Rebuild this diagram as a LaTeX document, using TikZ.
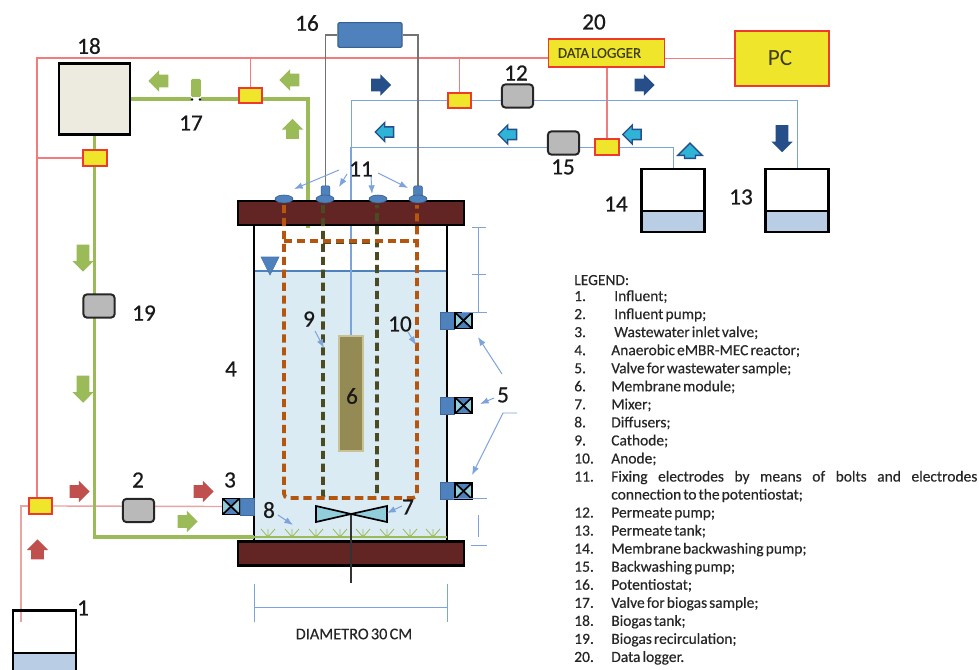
\documentclass[tikz,border=0pt]{standalone}
\usepackage{fontspec}
\setmainfont{Carlito}
\newfontfamily\numfont[FakeBold=.6]{Carlito}
\newfontfamily\legfont[WordSpace=.6,FakeBold=.25]{Carlito}
\usetikzlibrary{arrows.meta,calc,positioning,shapes.arrows,shapes.geometric}
\pgfdeclarelayer{under}
\pgfdeclarelayer{lines}
\pgfsetlayers{under,lines,main}
\definecolor{sigred}{HTML}{F27C7C}
\definecolor{inpink}{HTML}{E8A5A5}
\definecolor{boxred}{HTML}{EE3A2A}
\definecolor{boxyellow}{HTML}{EFE52B}
\definecolor{gasgreen}{HTML}{9BBB59}
\definecolor{liqblue}{HTML}{7DA3DC}
\definecolor{boxblue}{HTML}{4F81BD}
\definecolor{darkblue}{HTML}{264F8A}
\definecolor{lidbrown}{HTML}{632523}
\definecolor{waterblue}{HTML}{DBEBF4}
\definecolor{tankblue}{HTML}{B9CDE5}
\definecolor{tankcream}{HTML}{EDEBE0}
\definecolor{anodebrown}{HTML}{B4560F}
\definecolor{cathodeolive}{HTML}{4A4A23}
\definecolor{membfill}{HTML}{948A54}
\definecolor{membedge}{HTML}{C9C297}
\definecolor{mixcyan}{HTML}{92CDDC}
\definecolor{flowred}{HTML}{C0504D}
\definecolor{inkolive}{HTML}{3F3F15}
\tikzset{
 sigline/.style={sigred,line width=.75pt},
 inline/.style={inpink,line width=1pt},
 gasline/.style={gasgreen,line width=2.2pt},
 liqline/.style={liqblue,line width=.7pt},
 wireline/.style={gray!90!black,line width=.8pt},
 noteline/.style={liqblue,line width=.7pt},
 electrode/.style={line width=2.6pt,dash pattern=on 5.8pt off 3.4pt},
 sensorbox/.style={draw=boxred,fill=boxyellow,line width=1.4pt,minimum width=.58cm,minimum height=.38cm,inner sep=0pt},
 pumpbox/.style={draw=black!85,fill=gray!55,line width=1.4pt,rounded corners=2.5pt,minimum width=.78cm,minimum height=.58cm,inner sep=0pt},
 tankbox/.style={draw=black,line width=1.8pt,minimum width=1.58cm,minimum height=1.57cm,inner sep=0pt},
 lidbox/.style={draw=black,fill=lidbrown,line width=1.6pt,minimum width=5.65cm,minimum height=.6cm,inner sep=0pt},
 portbox/.style={draw=boxblue!80!black,fill=boxblue,line width=.4pt,minimum width=.36cm,minimum height=.42cm,inner sep=0pt},
 valvebox/.style={draw=black,fill=boxblue,line width=1pt,minimum width=.42cm,minimum height=.4cm,inner sep=0pt,
  path picture={
   \fill[mixcyan] (path picture bounding box.south west)--(path picture bounding box.center)--(path picture bounding box.north west)--cycle;
   \fill[mixcyan] (path picture bounding box.south east)--(path picture bounding box.center)--(path picture bounding box.north east)--cycle;
   \draw[black,line width=1.2pt] (path picture bounding box.south west)--(path picture bounding box.north east)
    (path picture bounding box.north west)--(path picture bounding box.south east);}},
 numlabel/.style={font=\numfont\fontsize{16.5}{17}\selectfont,text=black!90,inner sep=0pt},
 boltflat/.style={ellipse,draw=boxblue!70!black,fill=boxblue,line width=.4pt,minimum width=.45cm,minimum height=.2cm,inner sep=0pt},
 boltstub/.style={draw=boxblue!70!black,fill=boxblue,rounded corners=1pt,minimum width=.22cm,minimum height=.36cm,inner sep=0pt},
 flowarrow/.style={single arrow,single arrow head extend=.11cm,minimum height=.5cm,inner xsep=0pt,inner ysep=.15cm},
 gasflow/.style={flowarrow,fill=gasgreen},
 inflow/.style={flowarrow,fill=flowred},
 permflow/.style={flowarrow,fill=darkblue},
 backflow/.style={flowarrow,fill=boxblue!60!cyan,draw=darkblue,line width=1pt,minimum height=.46cm,inner ysep=.11cm},
 legitem/.style={anchor=west,inner sep=0pt,font=\legfont\fontsize{11}{12}\selectfont,text=black!85,text height=1.5ex,text depth=.3ex}
}
\begin{document}
\begin{tikzpicture}[x=.025cm,y=-.025cm,>=Latex]
\useasboundingbox (0,0) rectangle (979,670);
\clip (0,0) rectangle (979,670);
% nodes first, everything with a line goes on the layers below
\node[lidbox] (toplid) at (351,213) {};
\node[lidbox] (botlid) at (351,553.5) {};
\foreach \nm/\x/\y in {tank13/797/200.5,tank14/673/200.5,tank1/44.5/642}{
 \node[tankbox] (\nm) at (\x,\y) {};
}
\node[tankbox,fill=tankcream,minimum width=1.78cm,minimum height=1.78cm] (tank18) at (94.5,99) {};
\node[draw=boxred,fill=boxyellow,line width=.8pt,minimum width=2.92cm,minimum height=.7cm,inner sep=0pt,text=inkolive,font=\legfont\fontsize{10.6}{12}\selectfont] (logger) at (606.5,53) {\hspace{-.35cm}DATA LOGGER};
\node[draw=boxred,fill=boxyellow,line width=1.6pt,minimum width=2.35cm,minimum height=1.38cm,inner sep=0pt,text=inkolive,font=\fontsize{16.5}{17}\selectfont] (pc) at (782,58.5) {\hspace{-.1cm}PC};
\node[draw=boxblue!75!black,fill=boxblue,line width=.8pt,rounded corners=1pt,minimum width=1.6cm,minimum height=.62cm,inner sep=0pt] (pot) at (370,35) {};
\node[draw=membedge,fill=membfill,line width=1.4pt,minimum width=.6cm,minimum height=2.87cm,inner sep=0pt] (memb) at (351,393.5) {};
% bolts
\node[boltstub] (stubb) at (325.5,193) {};
\node[boltstub] (stubd) at (418,193) {};
\node[boltflat] (bolta) at (284,199) {};
\node[boltflat] (boltb) at (325,199) {};
\node[boltflat] (boltc) at (378,199) {};
\node[boltflat] (boltd) at (418,199) {};
% pumps, sensors, valves
\node[sensorbox] (sensa) at (40.5,506) {};
\node[sensorbox] (sensb) at (95,158) {};
\node[sensorbox] (sensc) at (250.5,95.5) {};
\node[sensorbox] (sensd) at (459.5,100.5) {};
\node[sensorbox] (sense) at (607,147) {};
\node[pumpbox] (pumpii) at (138.5,510.5) {};
\node[pumpbox] (pumpxii) at (517.5,96) {};
\node[pumpbox] (pumpxv) at (563.5,143) {};
\node[pumpbox] (pumpxix) at (99,306) {};
\node[valvebox] (valveiii) at (231,506.5) {};
\node[portbox] (portiii) at (247,506.5) {};
\foreach \y/\nm in {320.5/a,405.5/b,491/c}{
 \node[portbox] (port\nm) at (447.5,\y) {};
 \node[valvebox] (valve\nm) at (463.5,\y) {};
}
% named corners of the lines
\coordinate (nw) at (37,58);
\coordinate (influentin) at (21,622);
\coordinate (gastop) at (308,228);
\coordinate (gasin) at (254,537);
\coordinate (gasend) at (447,537);
\coordinate (permcorner) at (351,100);
\coordinate (bwcorner) at (350,147);
\begin{pgfonlayer}{under}
\fill[white] (0,0) rectangle (979,670);
% reactor liquid and walls
\fill[waterblue] (254,271) rectangle (447,542);
\draw[boxblue,line width=1.1pt] (254,271)--(447,271);
\draw[black,line width=2pt] (254,225)--(254,542) (447,225)--(447,542);
\draw[boxblue!90!black,fill=boxblue] (261,257)--(279,257)--(270,275)--cycle;
\foreach \nm/\y in {tank13/211,tank14/211,tank1/653}{
 \fill[tankblue] (\nm.west|-0,\y) rectangle (\nm.south east);
 \draw[black,line width=1.7pt] (\nm.west|-0,\y)--(\nm.east|-0,\y);
}
\end{pgfonlayer}
\begin{pgfonlayer}{lines}
\draw[sigline] (logger.west|-nw)--(nw)--(nw|-sensa.north);
\draw[sigline] (sensb.west)--(sensb.west-|nw);
\draw[sigline] (sensc.north)--(sensc.north|-nw);
\draw[sigline] (sensd.north)--(sensd.north|-nw);
\draw[sigline] (sense.north)--(sense.north|-logger.south);
\draw[sigline] (pc.west)--(logger.east|-pc.west);
\draw[inline] (sensa.west)-|(influentin);
\draw[inline] (sensa.east)--(valveiii.west);
\draw[gasline] (tank18.east)-|(gastop);
\draw[gasline] (tank18.south)|-(gasin);
\draw[gasgreen,line width=.8pt] (gasin)--(gasend);
\draw[liqline] (memb.north)--(permcorner)-|(tank13.north);
\draw[liqline] (tank14.north)|-(bwcorner)--(bwcorner|-memb.north);
\draw[wireline] (stubb.north)|-(pot.west);
\draw[wireline] (stubd.north)|-(pot.east);
\end{pgfonlayer}
% electrodes
\draw[cathodeolive,electrode,rounded corners=2pt] (323,205)--(323,498)--(377,498)--(377,205);
\draw[cathodeolive,electrode] (323,242)--(377,242);
\draw[anodebrown,electrode,rounded corners=3pt] (284,205)--(284,498)--(417,498)--(417,205);
\draw[anodebrown,electrode] (284,241)--(417,241);
% sample valve on the biogas line
\node[fill=gasgreen,rounded corners=1pt,minimum width=.24cm,minimum height=.46cm,inner sep=0pt] (sampletop) at (196,88) {};
\node[fill=white,minimum width=.26cm,minimum height=.14cm,inner sep=0pt] (samplebot) at (196,99.5) {};
\fill[black] (192,99.5) circle (1.3) (200,99.5) circle (1.3);
% mixer and diffusers
\foreach \x in {268,292,316,340,363,387,410,433}{
 \draw[gasgreen,line width=.6pt] (\x,537)--(\x-7,529) (\x,537)--(\x,529) (\x,537)--(\x+7,529);
}
\draw[black!80,line width=1.1pt] (351,513)--(351,583);
\draw[black,fill=mixcyan,line width=1.2pt] (316,506)--(351,514)--(316,522)--cycle;
\draw[black,fill=mixcyan,line width=1.2pt] (387,506)--(351,514)--(387,522)--cycle;
% flow arrows
\foreach \x/\y/\a [count=\i] in {161.5/81/180,292.5/80/180,292.5/132/90,184.5/521.5/0}{
 \node[gasflow,rotate=\a] (gasarrow\i) at (\x,\y) {};
}
\foreach \y [count=\i] in {255,386}{
 \node[gasflow,rotate=270,minimum height=.68cm] (gasdown\i) at (83,\y) {};
}
\foreach \x/\y/\a [count=\i] in {76.5/491.5/0,200.5/491.5/0,37.5/552.5/90}{
 \node[inflow,rotate=\a] (inarrow\i) at (\x,\y) {};
}
\foreach \x/\y [count=\i] in {378/85,641.5/85}{
 \node[permflow] (permarrow\i) at (\x,\y) {};
}
\node[permflow,rotate=270,minimum height=.68cm] (permdown) at (782,135.5) {};
\foreach \x/\y/\a [count=\i] in {387/132/180,510/134.5/180,634.5/134.5/180}{
 \node[backflow,rotate=\a] (backarrow\i) at (\x,\y) {};
}
\node[backflow,rotate=90,minimum height=.38cm,inner ysep=.12cm,single arrow head extend=.17cm] (backup) at (690,153.5) {};
% pointers to the labelled parts
\foreach \a/\b/\c/\d [count=\i] in {339/170/294/189,347/174/339/187,371/176/372/194,378/173/408/188,
 502/374/478/337,494/398/480/404,315/331/324/348,408/332/416/345,402/506/387/513,278/515/293/525}{
 \coordinate (notefrom\i) at (\a,\b);
 \coordinate (noteto\i) at (\c,\d);
 \draw[noteline,->] (notefrom\i)--(noteto\i);
}
\coordinate (notekink) at (503,413);
\draw[noteline,->] (517,413)--(notekink)--(472,475);
% sizes
\draw[noteline] (472,227)--(486,227) (472,274)--(486,274) (462,312)--(487,312) (478,227)--(478,312);
\draw[noteline] (453,498)--(487,498) (478,515)--(478,537) (471,545)--(487,545);
\draw[noteline] (254,584)--(254,622) (447,584)--(447,622) (254,607)--(447,607);
\node[font=\legfont\fontsize{11.6}{12}\selectfont,text=black!85,inner sep=0pt] (diam) at (354,634) {DIAMETRO 30 CM};
% part numbers
\foreach \t/\x/\y in {1/83/608,2/138/480,3/230/480,4/231/369,5/503/395,6/352/396,7/408/507,8/269/510,9/309/319,10/400/324,
 11/361/169,12/516/73,13/741/197,14/616/204,15/563/167,16/307/23,17/191/123,18/89/46,19/144/313,20/594/22}{
 \node[numlabel] (lab\t) at (\x,\y) {\t};
}
% legend
\node[legitem] (legtitle) at (574,281) {LEGEND:};
\foreach \n/\tx/\t [count=\i] in {1/614/Influent;,2/614/Influent pump;,3/614/Wastewater inlet valve;,
 4/611/Anaerobic eMBR-MEC reactor;,5/611/Valve for wastewater sample;,6/611/Membrane module;,7/611/Mixer;,
 8/611/Diffusers;,9/611/Cathode;,10/611/Anode;,11/611/{\makebox[9.15cm][s]{Fixing electrodes by means of bolts and electrodes}}}{
 \node[legitem] (legnum\n) at (574,{297+18.05*(\i-1)}) {\n.};
 \node[legitem] (legtxt\n) at (\tx,{297+18.05*(\i-1)}) {\t};
}
\node[legitem] (legtxtmore) at (611,495.5) {connection to the potentiostat;};
\foreach \n/\t [count=\i] in {12/Permeate pump;,13/Permeate tank;,14/Membrane backwashing pump;,15/Backwashing pump;,
 16/Potentiostat;,17/Valve for biogas sample;,18/Biogas tank;,19/Biogas recirculation;,20/Data logger.}{
 \node[legitem] (legnum\n) at (574,{513.5+18.05*(\i-1)}) {\n.};
 \node[legitem] (legtxt\n) at (611,{513.5+18.05*(\i-1)}) {\t};
}
\end{tikzpicture}
\end{document}
